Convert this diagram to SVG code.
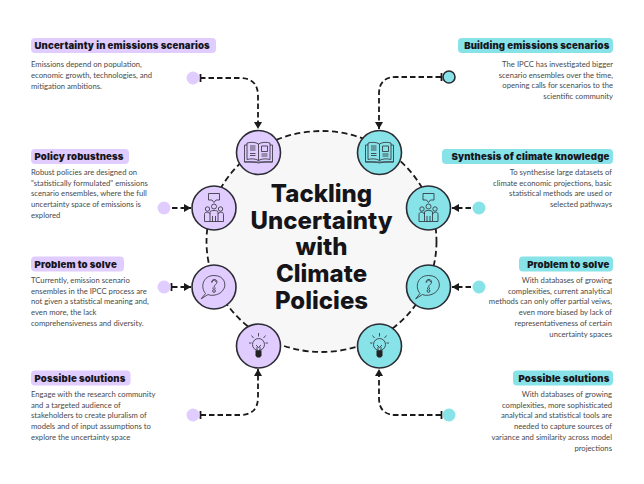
<svg xmlns="http://www.w3.org/2000/svg" width="644" height="484" viewBox="0 0 644 484">
<style>
.h{font-family:"Inter","Liberation Sans",sans-serif;font-weight:900;font-size:9.6px;fill:#16161c;letter-spacing:.15px}
.b{font-family:"Lato","Liberation Sans",sans-serif;font-weight:400;font-size:7.7px;fill:#4a4a4a}
.r{text-anchor:end}
.t{font-family:"Inter","Liberation Sans",sans-serif;font-weight:800;font-size:24px;fill:#151519;text-anchor:middle}
.p{fill:#e0ccff}.c{fill:#87e3e8}
.n{stroke:#2c2c34;stroke-width:1.6}
.i{fill:none;stroke:#2c2c34;stroke-width:.8;stroke-linejoin:round}
.cn{fill:none;stroke:#1a1a1a;stroke-width:1.8;stroke-dasharray:5.5 3}
.so{fill:none;stroke:#1a1a1a;stroke-width:1.8}
</style>
<defs>
<marker id="a" markerUnits="userSpaceOnUse" markerWidth="9" markerHeight="8" refX="7" refY="4" orient="auto"><path d="M0 0L7 4L0 8Z" fill="#1a1a1a"/></marker>
<symbol id="book" overflow="visible"><g class="i"><path d="M0-8.500C-3-10.500-8-10.500-11.500-9.500V7C-8 6-3 6 0 8C3 6 8 6 11.500 7V-9.500C8-10.500 3-10.500 0-8.500V8"/><path d="M-11.500-7.500H-14V9.500H14V-7.500H11.500M-14 9.500C-6 9 -2 10 0 10.500C2 10 6 9 14 9.500"/><path d="M-8.500-6.500H-3M-8.500-4.500H-3M-8.500-2.500H-3M-8.500 1H-3M-8.500 3H-3"/><path d="M3-6.500H9V-1H3ZM3 1.500H9M3 3.500H9"/></g></symbol>
<symbol id="team" overflow="visible"><g class="i"><path d="M-5.500-14.500H5.500V-8H2L0-5.500L-2-8H-5.500Z"/><circle cx="0" cy="-1.500" r="2.500"/><circle cx="-6.500" cy="1" r="2.200"/><circle cx="6.500" cy="1" r="2.200"/><path d="M-4 13.500V4C-4 2 4 2 4 4V13.500M-4 13.500H4M-4 6C-5 4-9.500 3-9.500 6.500V13.500H-4M4 6C5 4 9.500 3 9.500 6.500V13.500H4M-1.500 8V13.500M1.500 8V13.500"/></g></symbol>
<symbol id="ques" overflow="visible"><g class="i"><path d="M-12.800 11.800L-8.500 6.500C-14 0-11-11.500 0-11.500C11-11.500 12-2 10 1.500C7 8-2 9.500-6 7.500Z"/><path d="M-2.500-4.500C-2.500-8.500 3-8.500 3-5C3-2.500 0-2.500 0 0.500M-1.800-4.500C-1.800-7.500 2-7.500 2-5M-1 .500V2M1 .500V2"/><circle cx="0" cy="4" r="1.400"/></g></symbol>
<symbol id="bulb" overflow="visible"><g class="i"><circle cx="0" cy="-1.500" r="6"/><path d="M-2.500-1L0 1.500L2.500-1M-1.500 1V6M1.500 1V6"/><path d="M0-13V-9.500M-7-10.500L-5-8M7-10.500L5-8M-9.500-3H-7M9.500-3H7"/></g><path d="M-3 4.500H3V9.500L1.500 11.500H-1.500L-3 9.500Z" fill="#222"/></symbol>
</defs>
<rect width="644" height="484" fill="#fff"/>
<g id="hub">
<ellipse cx="321.500" cy="241.500" rx="115" ry="110.500" fill="#f7f7f7" stroke="#1a1a1a" stroke-width="1.800" stroke-dasharray="6 3.500"/>
<text class="t"><tspan x="321.500" y="202">Tackling</tspan><tspan x="321.500" y="228.700">Uncertainty</tspan><tspan x="321.500" y="255.400">with</tspan><tspan x="321.500" y="282">Climate</tspan><tspan x="321.500" y="308.700">Policies</tspan></text>
</g>
<g id="connectors">
<path class="cn" d="M200 78H240Q258 78 258 96V129" marker-end="url(#a)"/><path class="so" d="M200.500 74V82"/>
<path class="cn" d="M172 208H191" marker-end="url(#a)"/>
<path class="cn" d="M172 287H191" marker-end="url(#a)"/><path class="so" d="M171.500 283V291"/>
<path class="cn" d="M200.500 415H240Q258 415 258 397V369" marker-end="url(#a)"/><path class="so" d="M200.500 411V419"/>
<path class="cn" d="M441 77H396Q379 77 379 94V129" marker-end="url(#a)"/><path class="so" d="M441.500 73V81"/>
<path class="cn" d="M471 208H452" marker-end="url(#a)"/>
<path class="cn" d="M471 287H452" marker-end="url(#a)"/>
<path class="cn" d="M441 415H396Q379 415 379 398V369" marker-end="url(#a)"/><path class="so" d="M441.500 411V419"/>
</g>
<g id="n1"><rect class="p" x="31" y="38" width="185" height="15" rx="4"/><text class="h" x="34.500" y="49">Uncertainty in emissions scenarios</text>
<text class="b"><tspan x="31" y="67">Emissions depend on population,</tspan><tspan x="31" y="78">economic growth, technologies, and</tspan><tspan x="31" y="89">mitigation ambitions.</tspan></text>
<circle class="p" cx="193" cy="78" r="6.500"/><circle class="p n" cx="258.500" cy="152.500" r="22"/><use href="#book" x="258.500" y="152.500"/></g>
<g id="n2"><rect class="p" x="31" y="149" width="98" height="15" rx="4"/><text class="h" x="34.500" y="160">Policy robustness</text>
<text class="b"><tspan x="31" y="175">Robust policies are designed on</tspan><tspan x="31" y="185.700">"statistically formulated" emissions</tspan><tspan x="31" y="196.400">scenario ensembles, where the full</tspan><tspan x="31" y="207.100">uncertainty space of emissions is</tspan><tspan x="31" y="217.800">explored</tspan></text>
<circle class="p" cx="164" cy="208" r="6.500"/><circle class="p n" cx="214" cy="208" r="22"/><use href="#team" x="214" y="208"/></g>
<g id="n3"><rect class="p" x="31" y="256.500" width="93" height="15" rx="4"/><text class="h" x="34.500" y="267.500">Problem to solve</text>
<text class="b"><tspan x="31" y="283">TCurrently, emission scenario</tspan><tspan x="31" y="293.700">ensembles in the IPCC process are</tspan><tspan x="31" y="304.400">not given a statistical meaning and,</tspan><tspan x="31" y="315.100">even more, the lack</tspan><tspan x="31" y="325.800">comprehensiveness and diversity.</tspan></text>
<circle class="p" cx="164" cy="287" r="6.500"/><circle class="p n" cx="214" cy="287" r="22"/><use href="#ques" x="214" y="287"/></g>
<g id="n4"><rect class="p" x="31" y="370.500" width="99.500" height="15" rx="4"/><text class="h" x="34.500" y="381.500">Possible solutions</text>
<text class="b"><tspan x="31" y="397">Engage with the research community</tspan><tspan x="31" y="407.700">and a targeted audience of</tspan><tspan x="31" y="418.400">stakeholders to create pluralism of</tspan><tspan x="31" y="429.100">models and of input assumptions to</tspan><tspan x="31" y="439.800">explore the uncertainty space</tspan></text>
<circle class="p" cx="193" cy="415" r="6.500"/><circle class="p n" cx="258.500" cy="346" r="22"/><use href="#bulb" x="258.500" y="346"/></g>
<g id="n5"><rect class="c" x="458" y="38" width="155" height="15" rx="4"/><text class="h r" x="609.500" y="49">Building emissions scenarios</text>
<text class="b r"><tspan x="613" y="67">The IPCC has investigated bigger</tspan><tspan x="613" y="77.700">scenario ensembles over the time,</tspan><tspan x="613" y="88.400">opening calls for scenarios to the</tspan><tspan x="613" y="99">scientific community</tspan></text>
<circle class="c n" cx="449" cy="77" r="6"/><circle class="c n" cx="379.500" cy="152.500" r="22"/><use href="#book" x="379.500" y="152.500"/></g>
<g id="n6"><rect class="c" x="442" y="149" width="171" height="15" rx="4"/><text class="h r" x="609.500" y="160">Synthesis of climate knowledge</text>
<text class="b r"><tspan x="612" y="175">To synthesise large datasets of</tspan><tspan x="612" y="185.700">climate economic projections, basic</tspan><tspan x="612" y="196.400">statistical methods are used or</tspan><tspan x="612" y="207.100">selected pathways</tspan></text>
<circle class="c" cx="479" cy="208" r="6.500"/><circle class="c n" cx="428.500" cy="208" r="22"/><use href="#team" x="428.500" y="208"/></g>
<g id="n7"><rect class="c" x="519" y="256.500" width="94" height="15" rx="4"/><text class="h r" x="609.500" y="267.500">Problem to solve</text>
<text class="b r"><tspan x="612" y="283">With databases of growing</tspan><tspan x="612" y="293.700">complexities, current analytical</tspan><tspan x="612" y="304.400">methods can only offer partial veiws,</tspan><tspan x="612" y="315.100">even more biased by lack of</tspan><tspan x="612" y="325.800">representativeness of certain</tspan><tspan x="612" y="336.500">uncertainty spaces</tspan></text>
<circle class="c" cx="479" cy="287" r="6.500"/><circle class="c n" cx="428.500" cy="287" r="22"/><use href="#ques" x="428.500" y="287"/></g>
<g id="n8"><rect class="c" x="513" y="370.500" width="100" height="15" rx="4"/><text class="h r" x="609.500" y="381.500">Possible solutions</text>
<text class="b r"><tspan x="612" y="397">With databases of growing</tspan><tspan x="612" y="407.700">complexities, more sophisticated</tspan><tspan x="612" y="418.400">analytical and statistical tools are</tspan><tspan x="612" y="429.100">needed to capture sources of</tspan><tspan x="612" y="439.800">variance and similarity across model</tspan><tspan x="612" y="450.500">projections</tspan></text>
<circle class="c" cx="449" cy="415" r="6.500"/><circle class="c n" cx="379.500" cy="346" r="22"/><use href="#bulb" x="379.500" y="346"/></g>
</svg>
